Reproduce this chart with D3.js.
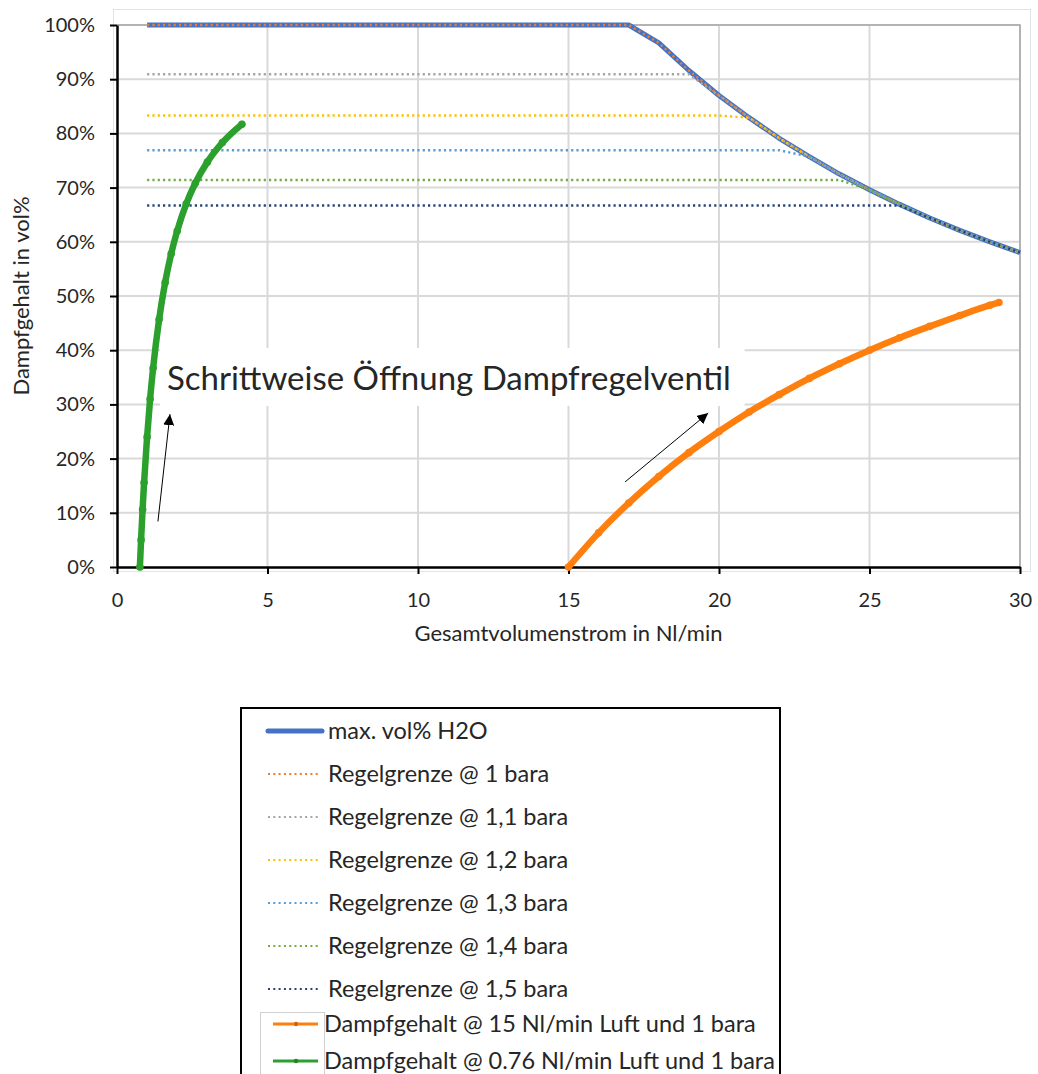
<!DOCTYPE html>
<html>
<head>
<meta charset="utf-8">
<script src="https://cdn.jsdelivr.net/npm/d3@7"></script>
<style>
  body { margin: 0; background: #fff; }
  text { font-family: Lato, "Open Sans", sans-serif; fill: #262626; }
</style>
</head>
<body>
<div id="chart"></div>
<script>
// x positions of the limit curves (Nl/min)
var flowX = [1,2,3,4,5,6,7,8,9,10,11,12,13,14,15,16,17,18,19,20,21,22,23,24,25,26,27,28,29,30];
// max. vol% H2O
var maxVol = [100,100,100,100,100,100,100,100,100,100,100,100,100,100,100,100,100,96.7,91.6,87.0,82.9,79.1,75.7,72.5,69.6,66.9,64.4,62.1,60.0,58.0];

// Regelgrenze levels (vol%) per pressure
var regelNames = ["Regelgrenze @ 1 bara","Regelgrenze @ 1,1 bara","Regelgrenze @ 1,2 bara","Regelgrenze @ 1,3 bara","Regelgrenze @ 1,4 bara","Regelgrenze @ 1,5 bara"];
var regelLimits = [100, 90.9, 83.3, 76.9, 71.4, 66.7];
var regelColors = ["#ed7d31","#a5a5a5","#ffc000","#5b9bd5","#70ad47","#264478"];

// Dampfgehalt @ 15 Nl/min Luft
var luft15X = [15,16,17,18,19,20,21,22,23,24,25,26,27,28,29,29.3];
var luft15Y = [0,6.3,11.8,16.7,21.1,25.0,28.6,31.8,34.8,37.5,40.0,42.3,44.4,46.4,48.3,48.8];

// Dampfgehalt @ 0.76 Nl/min Luft
var luft076X = [0.76,0.8,0.85,0.9,1.0,1.1,1.2,1.4,1.6,1.8,2.0,2.3,2.6,3.0,3.5,4.15];
var luft076Y = [0,5.0,10.6,15.6,24.0,31.0,36.7,45.7,52.5,57.8,62.0,67.0,70.8,74.7,78.3,81.7];

var xTicks = [0,5,10,15,20,25,30];
var yTicks = [0,10,20,30,40,50,60,70,80,90,100];

var width = 1038, height = 1074;

var svg = d3.select("#chart")
  .append("svg")
  .attr("width", width)
  .attr("height", height);

var x = d3.scaleLinear().domain([0, 30]).range([117, 1020]);
var y = d3.scaleLinear().domain([0, 100]).range([567, 25]);

// outer frame of the chart area
svg.append("rect")
  .attr("x", 113.5).attr("y", 9.5)
  .attr("width", 917).attr("height", 562)
  .attr("fill", "none")
  .attr("stroke", "#e3e3e3");

// gridlines
svg.append("g").selectAll("line")
  .data(xTicks.slice(1))
  .enter().append("line")
  .attr("x1", function(d) { return x(d) }).attr("x2", function(d) { return x(d) })
  .attr("y1", y(0)).attr("y2", y(100))
  .attr("stroke", "#d9d9d9").attr("stroke-width", 2);

svg.append("g").selectAll("line")
  .data(yTicks.slice(1))
  .enter().append("line")
  .attr("x1", x(0)).attr("x2", x(30))
  .attr("y1", function(d) { return y(d) }).attr("y2", function(d) { return y(d) })
  .attr("stroke", "#d9d9d9").attr("stroke-width", 2);

// plot border top + right
svg.append("path")
  .attr("d", "M" + x(0) + "," + y(100) + "H" + x(30) + "V" + y(0))
  .attr("fill", "none")
  .attr("stroke", "#a6a6a6").attr("stroke-width", 1.5);

// axes
var xAxis = svg.append("g")
  .attr("transform", "translate(0," + y(0) + ")")
  .call(d3.axisBottom(x).tickValues(xTicks).tickSize(7).tickPadding(19).tickSizeOuter(0));
var yAxis = svg.append("g")
  .attr("transform", "translate(" + x(0) + ",0)")
  .call(d3.axisLeft(y).tickValues(yTicks).tickSize(7).tickPadding(15).tickSizeOuter(0)
    .tickFormat(function(d) { return d + "%" }));

[xAxis, yAxis].forEach(function(a) {
  a.select(".domain").attr("stroke", "#000").attr("stroke-width", 2.5);
  a.selectAll(".tick line").attr("stroke", "#000").attr("stroke-width", 2);
  a.selectAll(".tick text").attr("font-size", 20).attr("fill", "#262626")
    .style("font-family", "Lato, sans-serif");
});

// axis titles
svg.append("text")
  .attr("x", (x(0) + x(30)) / 2).attr("y", 641)
  .attr("text-anchor", "middle")
  .attr("font-size", 22)
  .text("Gesamtvolumenstrom in Nl/min");

svg.append("text")
  .attr("transform", "translate(29," + (y(0) + y(100)) / 2 + ") rotate(-90)")
  .attr("text-anchor", "middle")
  .attr("font-size", 22)
  .text("Dampfgehalt in vol%");

var line = d3.line()
  .x(function(d) { return x(d[0]) })
  .y(function(d) { return y(d[1]) });

// max. vol% H2O
var maxData = flowX.map(function(v, i) { return [v, maxVol[i]] });
svg.append("path")
  .attr("d", line(maxData))
  .attr("fill", "none")
  .attr("stroke", "#4472c4").attr("stroke-width", 5)
  .attr("stroke-linejoin", "round");

// Regelgrenzen: level until it meets the max curve
regelLimits.forEach(function(lim, k) {
  var pts = flowX.map(function(v, i) { return [v, Math.min(lim, maxVol[i])] });
  svg.append("path")
    .attr("d", line(pts))
    .attr("fill", "none")
    .attr("stroke", regelColors[k]).attr("stroke-width", 2.4)
    .attr("stroke-dasharray", "2.2,3.1");
});

// Dampfgehalt curves
var smooth = d3.line()
  .curve(d3.curveMonotoneX)
  .x(function(d) { return x(d[0]) })
  .y(function(d) { return y(d[1]) });

function drawSteam(xs, ys, color) {
  var pts = xs.map(function(v, i) { return [v, ys[i]] });
  svg.append("path")
    .attr("d", smooth(pts))
    .attr("fill", "none")
    .attr("stroke", color).attr("stroke-width", 6.5)
    .attr("stroke-linecap", "round");
  svg.append("g").selectAll("circle")
    .data(pts)
    .enter().append("circle")
    .attr("cx", function(d) { return x(d[0]) })
    .attr("cy", function(d) { return y(d[1]) })
    .attr("r", 3.8)
    .attr("fill", color);
}
drawSteam(luft15X, luft15Y, "#ff7f0e");
drawSteam(luft076X, luft076Y, "#2ca02c");

// annotation
svg.append("rect")
  .attr("x", x(1.43)).attr("y", y(40.4))
  .attr("width", x(20.85) - x(1.43)).attr("height", y(29.7) - y(40.4))
  .attr("fill", "#fff");

svg.append("text")
  .attr("x", x(1.66)).attr("y", y(32.7))
  .attr("font-size", 33)
  .attr("fill", "#000")
  .text("Schrittweise Öffnung Dampfregelventil");

var defs = svg.append("defs");
defs.append("marker")
  .attr("id", "arrow")
  .attr("viewBox", "0 0 10 10")
  .attr("refX", 10).attr("refY", 5)
  .attr("markerUnits", "userSpaceOnUse")
  .attr("markerWidth", 11).attr("markerHeight", 11)
  .attr("orient", "auto")
  .append("path")
  .attr("d", "M0,0L10,5L0,10Z")
  .attr("fill", "#000");

var arrows = [
  [[1.36, 8.4], [1.76, 28.2]],
  [[16.88, 15.7], [19.64, 28.4]]
];
svg.append("g").selectAll("line")
  .data(arrows)
  .enter().append("line")
  .attr("x1", function(d) { return x(d[0][0]) })
  .attr("y1", function(d) { return y(d[0][1]) })
  .attr("x2", function(d) { return x(d[1][0]) })
  .attr("y2", function(d) { return y(d[1][1]) })
  .attr("stroke", "#000").attr("stroke-width", 1)
  .attr("marker-end", "url(#arrow)");

// legend
var legend = svg.append("g");
legend.append("rect")
  .attr("x", 241).attr("y", 708)
  .attr("width", 539).attr("height", 400)
  .attr("fill", "#fff")
  .attr("stroke", "#000").attr("stroke-width", 2);

var legItems = [{ name: "max. vol% H2O", color: "#4472c4", type: "max" }];
regelNames.forEach(function(n, k) { legItems.push({ name: n, color: regelColors[k], type: "dot" }) });
legItems.push({ name: "Dampfgehalt @ 15 Nl/min Luft und 1 bara", color: "#ff7f0e", type: "steam" });
legItems.push({ name: "Dampfgehalt @ 0.76 Nl/min Luft und 1 bara", color: "#2ca02c", type: "steam" });

var rowY = [731, 774, 817, 860, 903, 946, 989, 1024, 1061];

legend.append("rect")
  .attr("x", 260.5).attr("y", 1012.5)
  .attr("width", 64).attr("height", 80)
  .attr("fill", "none")
  .attr("stroke", "#d0d0d0");

legItems.forEach(function(it, i) {
  var yy = rowY[i];
  var g = legend.append("g");
  if (it.type === "max") {
    g.append("line").attr("x1", 268).attr("x2", 322).attr("y1", yy).attr("y2", yy)
      .attr("stroke", it.color).attr("stroke-width", 5).attr("stroke-linecap", "round");
  } else if (it.type === "dot") {
    g.append("line").attr("x1", 268).attr("x2", 320).attr("y1", yy).attr("y2", yy)
      .attr("stroke", it.color).attr("stroke-width", 2)
      .attr("stroke-dasharray", "2,3.3");
  } else {
    g.append("line").attr("x1", 273).attr("x2", 318).attr("y1", yy).attr("y2", yy)
      .attr("stroke", it.color).attr("stroke-width", 3);
    g.append("circle").attr("cx", 296).attr("cy", yy).attr("r", 2.2)
      .attr("fill", d3.color(it.color).darker(0.6));
  }
  g.append("text")
    .attr("x", it.type === "steam" ? 324 : 328)
    .attr("y", yy)
    .attr("dy", "0.35em")
    .attr("font-size", 23.5)
    .attr("fill", "#000")
    .text(it.name);
});
</script>
</body>
</html>
